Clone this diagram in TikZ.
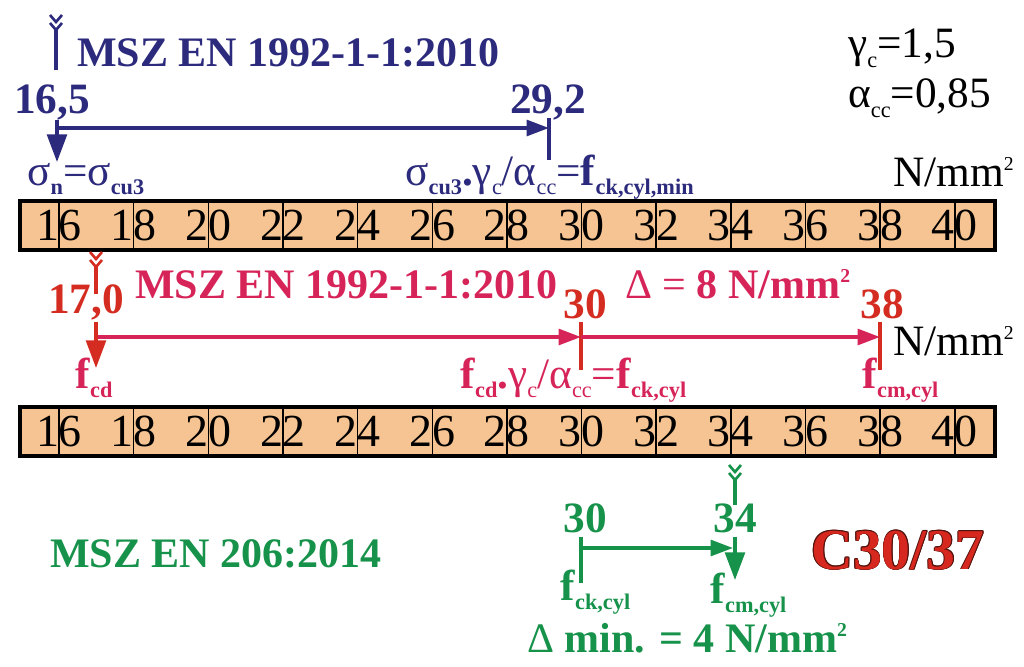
\documentclass[tikz,border=0pt]{standalone}
\usepackage{fontspec}
\setmainfont{Liberation Serif}
\usetikzlibrary{arrows.meta}

\definecolor{mszblue}{RGB}{44,42,124}
\definecolor{mszcrim}{RGB}{214,36,88}
\definecolor{mszred}{RGB}{212,44,32}
\definecolor{mszgreen}{RGB}{22,146,74}
\definecolor{peach}{RGB}{246,196,146}
\definecolor{c30red}{RGB}{214,40,30}
\definecolor{c30dark}{RGB}{80,18,12}

% subscript, superscript 2
\newcommand\sub[1]{\raisebox{-7pt}{\fontsize{17}{17}\selectfont#1}}
\newcommand\sqr{\raisebox{12pt}{\fontsize{15}{15}\selectfont 2}}
% arrow tail: colour, x, top, bottom
\newcommand\fletch[4]{%
  \draw[#1,line width=2pt] (#2-6,#3) -- (#2,#3+7) -- (#2+6,#3)
    (#2-6,#3+8) -- (#2,#3+15) -- (#2+6,#3+8);
  \draw[#1,line width=2.6pt] (#2,#3+14) -- (#2,#4);}

\tikzset{
  bar/.style={fill=peach,draw=black,line width=2.4pt},
  divider/.style={draw=black,line width=1.2pt},
  barnum/.style={font=\fontsize{35}{38}\selectfont,inner sep=0pt,anchor=base},
  ttl/.style={font=\fontsize{32}{36}\selectfont\bfseries,inner sep=0pt,anchor=base west},
  val/.style={font=\fontsize{33}{36}\selectfont\bfseries,inner sep=0pt,anchor=base},
  lab/.style={font=\fontsize{33}{36}\selectfont,inner sep=0pt,anchor=base west},
  tick/.style={line width=2.6pt},
  harr/.style={line width=2.6pt,-{Triangle[length=17pt,width=12pt]}},
  varr/.style={line width=2.6pt,-{Triangle[length=21pt,width=15pt]}},
  big/.style={font=\fontsize{44}{48}\selectfont\bfseries,inner sep=0pt,anchor=base}
}

\begin{document}
\begin{tikzpicture}[x=0.762pt,y=-0.762pt]
\useasboundingbox (0,0) rectangle (1024,667);

% the two scales
\foreach \yt/\nm in {201/top,407/bot} {
  \draw[bar] (20,\yt) rectangle (995,\yt+49);
  \foreach \v in {16,18,...,40} {
    \pgfmathsetmacro\xv{59+(\v-16)*37.33}
    \draw[divider] (\xv,\yt) -- (\xv,\yt+49);
    \node[barnum] (\nm\v) at (\xv,\yt+39) {\v};
  }
}

% EC2, sigma
\fletch{mszblue}{56}{15}{70}
\node[ttl,mszblue] (ec2a) at (77,67) {MSZ EN 1992-1-1:2010};
\node[val,mszblue] (v165) at (52,113) {16,5};
\node[val,mszblue] (v292) at (548,113) {29,2};
\coordinate (h165) at (57,128);
\coordinate (h292) at (549,128);
\coordinate (k292a) at (549,118);
\coordinate (k292b) at (549,160);
\coordinate (d165a) at (57,120);
\coordinate (d165b) at (57,162);
\draw[tick,mszblue] (k292a) -- (k292b);
\draw[harr,mszblue] (h165) -- (h292);
\draw[varr,mszblue] (d165a) -- (d165b);
\node[lab,mszblue] (sign) at (27,185) {σ\sub{\bfseries n}=σ\sub{\bfseries cu3}};
\node[lab,mszblue] (fckmin) at (405,185) {σ\sub{\bfseries cu3}\textbf{.}γ\sub{c}/α\sub{cc}=\textbf{f}\sub{\bfseries ck,cyl,min}};

\node[lab] (gamc) at (848,58) {γ\sub{c}=1,5};
\node[lab] (alcc) at (848,108) {α\sub{cc}=0,85};
\node[lab] (unit1) at (893,186) {N/mm\sqr};

% EC2, fcd
\fletch{mszred}{96}{252}{294}
\node[val,mszred] (v170) at (86,313) {17,0};
\node[ttl,mszcrim] (ec2b) at (135,298) {MSZ EN 1992-1-1:2010};
\node[val,mszred] (v30a) at (585,318) {30};
\node[ttl,mszcrim] (delta8) at (625,298) {{\mdseries Δ =} 8 N/mm\sqr};
\node[val,mszred] (v38) at (882,318) {38};
\coordinate (h170) at (97,337);
\coordinate (h30) at (581,337);
\coordinate (h38) at (880,337);
\coordinate (k30a) at (581,322);
\coordinate (k30b) at (581,370);
\coordinate (k38a) at (880,322);
\coordinate (k38b) at (880,370);
\coordinate (d170a) at (96,322);
\coordinate (d170b) at (96,368);
\draw[tick,mszred] (k30a) -- (k30b);
\draw[tick,mszred] (k38a) -- (k38b);
\draw[harr,mszcrim] (h170) -- (h30);
\draw[harr,mszcrim] (h30) -- (h38);
\draw[varr,mszred] (d170a) -- (d170b);
\node[lab,mszcrim] (fcd) at (75,388) {\textbf{f}\sub{\bfseries cd}};
\node[lab,mszcrim] (fck) at (460,388) {\textbf{f}\sub{\bfseries cd}\textbf{.}γ\sub{c}/α\sub{cc}=\textbf{f}\sub{\bfseries ck,cyl}};
\node[lab,mszcrim] (fcm) at (862,388) {\textbf{f}\sub{\bfseries cm,cyl}};
\node[lab] (unit2) at (893,355) {N/mm\sqr};

% EN 206
\node[ttl,mszgreen] (en206) at (50,567) {MSZ EN 206:2014};
\fletch{mszgreen}{735}{465}{505}
\node[val,mszgreen] (v30c) at (585,532) {30};
\node[val,mszgreen] (v34) at (735,532) {34};
\coordinate (k30ca) at (581,537);
\coordinate (k30cb) at (581,583);
\coordinate (h30c) at (581,548);
\coordinate (h34) at (733,548);
\coordinate (d34a) at (735,537);
\coordinate (d34b) at (735,580);
\draw[tick,mszgreen] (k30ca) -- (k30cb);
\draw[harr,mszgreen] (h30c) -- (h34);
\draw[varr,mszgreen] (d34a) -- (d34b);
\node[lab,mszgreen] (fckg) at (560,600) {\textbf{f}\sub{\bfseries ck,cyl}};
\node[lab,mszgreen] (fcmg) at (710,603) {\textbf{f}\sub{\bfseries cm,cyl}};
\node[ttl,mszgreen] (delta4) at (527,652) {{\mdseries Δ} min. = 4 N/mm\sqr};

% class
\foreach \a in {0,45,...,315}
  \node[big,text=c30dark,shift={(\a:0.9)}] (c30s\a) at (898,569) {C30/37};
\node[big,text=c30red] (c30) at (898,569) {C30/37};
\end{tikzpicture}
\end{document}
